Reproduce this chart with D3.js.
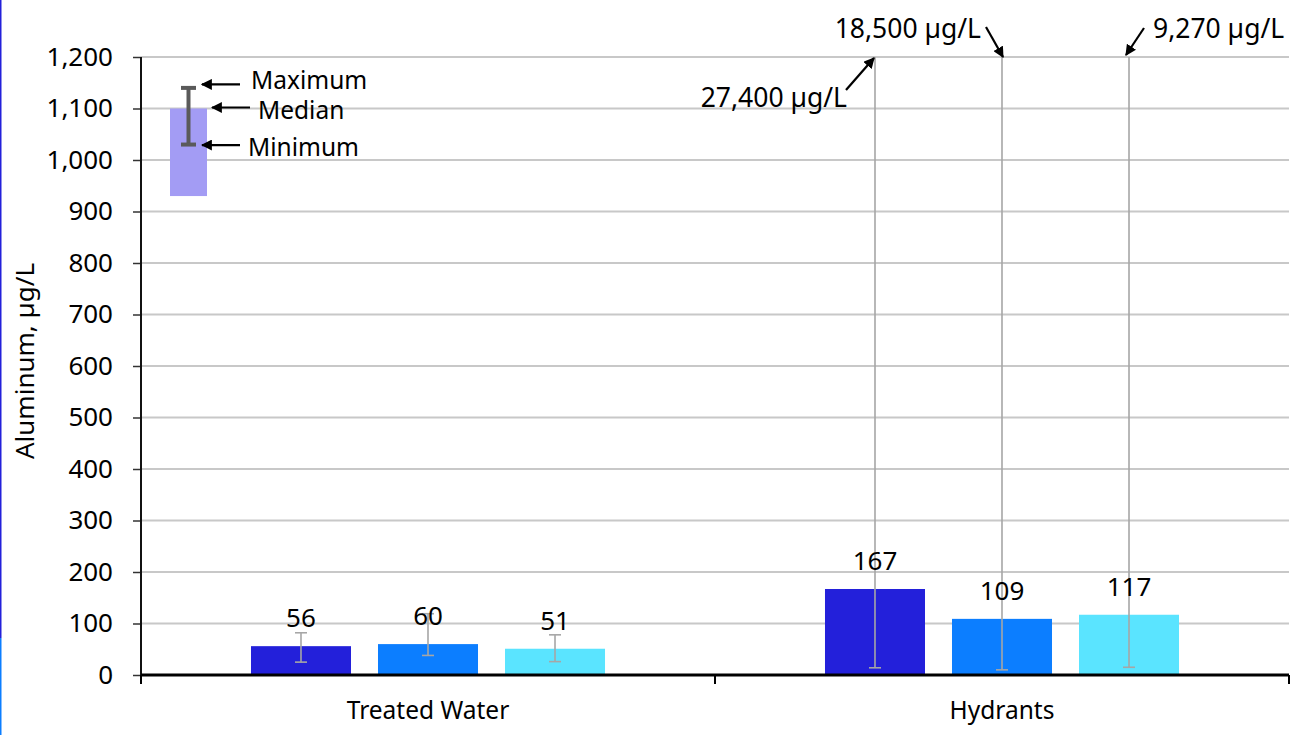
<!DOCTYPE html>
<html>
<head>
<meta charset="utf-8">
<script src="https://cdn.jsdelivr.net/npm/d3@7"></script>
<style>
  html, body { margin: 0; padding: 0; background: #fff; }
  svg { display: block; font-family: "Noto Sans", "Open Sans", sans-serif; }
</style>
</head>
<body>
<svg id="chart" width="1293" height="735"></svg>
<script>
// Sample locations and the three sampling series per location
const categories = ["Treated Water", "Hydrants"];
const seriesKeys = ["series1", "series2", "series3"];
const seriesColors = ["#2320DA", "#0C7EFF", "#5AE4FF"];

// Median aluminum concentration (µg/L) per location, per series
const medians = [
  [56, 60, 51],
  [167, 109, 117]
];
// Minimum and maximum concentrations (µg/L)
const minima = [
  [25, 38, 26],
  [14, 10, 15]
];
const maxima = [
  [82, 119, 78],
  [27400, 18500, 9270]
];

// Y axis ticks
const yTicks = [0, 100, 200, 300, 400, 500, 600, 700, 800, 900, 1000, 1100, 1200];

// Key explaining the bar / whisker encoding
const keyValues = { base: 930, median: 1100, min: 1030, max: 1140 };
const keyLabels = ["Maximum", "Median", "Minimum"];

const W = 1293, H = 735;
const margin = { top: 57, right: 4, bottom: 60, left: 141 };
const svg = d3.select("#chart");

const x0 = d3.scaleBand()
  .domain(categories)
  .range([margin.left, W - margin.right])
  .padding(0);

const x1 = d3.scaleBand()
  .domain(seriesKeys)
  .range([0, x0.bandwidth()])
  .paddingInner(0.2126)
  .paddingOuter(0.866);

const y = d3.scaleLinear()
  .domain([0, 1200])
  .range([H - margin.bottom, margin.top]);

const color = d3.scaleOrdinal(seriesKeys, seriesColors);
const NUM_FONT = 26;    // numbers and axis title
const WORD_FONT = 24.5; // category names and key labels
const NOTE_FONT = 26.5; // call-outs

// Left edge rule
svg.append("rect").attr("x", 0).attr("y", 0).attr("width", 1.5).attr("height", 638).attr("fill", "#2320DA");
svg.append("rect").attr("x", 0).attr("y", 638).attr("width", 1.5).attr("height", H - 638).attr("fill", "#0C7EFF");

// Gridlines
svg.append("g")
  .selectAll("line")
  .data(yTicks.filter(d => d > 0))
  .join("line")
  .attr("x1", margin.left)
  .attr("x2", W - margin.right)
  .attr("y1", d => y(d))
  .attr("y2", d => y(d))
  .attr("stroke", "#C8C8C8")
  .attr("stroke-width", 2);

// Clip for whiskers that run past the top of the scale
svg.append("clipPath").attr("id", "plot-clip")
  .append("rect")
  .attr("x", margin.left).attr("y", margin.top)
  .attr("width", W - margin.left - margin.right)
  .attr("height", H - margin.top - margin.bottom);

// Flatten data for drawing
const rows = [];
categories.forEach((c, ci) => {
  seriesKeys.forEach((s, si) => {
    rows.push({ cat: c, key: s, median: medians[ci][si], min: minima[ci][si], max: maxima[ci][si] });
  });
});

svg.append("g").attr("class", "bars")
  .selectAll("rect")
  .data(rows)
  .join("rect")
  .attr("x", d => x0(d.cat) + x1(d.key))
  .attr("y", d => y(d.median))
  .attr("width", x1.bandwidth())
  .attr("height", d => y(0) - y(d.median))
  .attr("fill", d => color(d.key));

// Min–max whiskers
const whisk = svg.append("g").attr("clip-path", "url(#plot-clip)")
  .attr("stroke", "#A6A6A6").attr("stroke-width", 1.6).attr("fill", "none");
const capHalf = 6;
rows.forEach(d => {
  const cx = x0(d.cat) + x1(d.key) + x1.bandwidth() / 2;
  whisk.append("line").attr("x1", cx).attr("x2", cx).attr("y1", y(d.min)).attr("y2", y(d.max));
  whisk.append("line").attr("x1", cx - capHalf).attr("x2", cx + capHalf).attr("y1", y(d.min)).attr("y2", y(d.min));
  whisk.append("line").attr("x1", cx - capHalf).attr("x2", cx + capHalf).attr("y1", y(d.max)).attr("y2", y(d.max));
});

// Median value labels
svg.append("g")
  .selectAll("text")
  .data(rows)
  .join("text")
  .attr("x", d => x0(d.cat) + x1(d.key) + x1.bandwidth() / 2)
  .attr("y", d => y(d.median) - 19)
  .attr("text-anchor", "middle")
  .attr("font-size", NUM_FONT)
  .attr("fill", "#000")
  .text(d => d3.format(",")(d.median));

// Y axis
const yAxis = svg.append("g")
  .attr("transform", `translate(${margin.left},0)`)
  .call(d3.axisLeft(y).tickValues(yTicks).tickSize(8).tickPadding(20).tickFormat(d3.format(",")))
  .attr("font-family", null);
yAxis.select(".domain").remove();
yAxis.selectAll(".tick line").attr("stroke", "#333").attr("stroke-width", 1.5);
yAxis.selectAll(".tick text").attr("font-size", NUM_FONT).attr("fill", "#000");
svg.append("line")
  .attr("x1", margin.left).attr("x2", margin.left)
  .attr("y1", margin.top).attr("y2", y(0) + 9)
  .attr("stroke", "#111").attr("stroke-width", 2);

// X axis: category labels at band centres, ticks at band edges
const xAxis = svg.append("g")
  .attr("transform", `translate(0,${y(0)})`)
  .call(d3.axisBottom(x0).tickSize(0).tickPadding(27))
  .attr("font-family", null);
xAxis.select(".domain").remove();
xAxis.selectAll(".tick text").attr("font-size", WORD_FONT).attr("fill", "#000");

const edges = categories.map(c => x0(c)).concat([x0.range()[1]]);
svg.append("g").selectAll("line")
  .data(edges)
  .join("line")
  .attr("x1", d => d).attr("x2", d => d)
  .attr("y1", y(0)).attr("y2", y(0) + 9)
  .attr("stroke", "#000").attr("stroke-width", 2);
svg.append("line")
  .attr("x1", margin.left).attr("x2", W - margin.right)
  .attr("y1", y(0)).attr("y2", y(0))
  .attr("stroke", "#000").attr("stroke-width", 3);

// Y axis title
svg.append("text")
  .attr("transform", `translate(34,${(margin.top + y(0)) / 2 - 5}) rotate(-90)`)
  .attr("text-anchor", "middle")
  .attr("font-size", NUM_FONT)
  .attr("fill", "#000")
  .text("Aluminum, µg/L");

// Arrow marker
svg.append("defs").append("marker")
  .attr("id", "arrow")
  .attr("viewBox", "0 0 10 10")
  .attr("refX", 9).attr("refY", 5)
  .attr("markerWidth", 5).attr("markerHeight", 5)
  .attr("markerUnits", "strokeWidth")
  .attr("orient", "auto")
  .append("path")
  .attr("d", "M0,0 L10,5 L0,10 Z")
  .attr("fill", "#000");

function arrow(ax1, ay1, ax2, ay2) {
  svg.append("line")
    .attr("x1", ax1).attr("y1", ay1).attr("x2", ax2).attr("y2", ay2)
    .attr("stroke", "#000").attr("stroke-width", 2.2)
    .attr("marker-end", "url(#arrow)");
}

// Key: bar + whisker with labelled arrows
const keyX = margin.left + 29, keyW = 37;
const keyCx = keyX + keyW / 2;
svg.append("rect")
  .attr("x", keyX).attr("y", y(keyValues.median))
  .attr("width", keyW).attr("height", y(keyValues.base) - y(keyValues.median))
  .attr("fill", "#A39CF4");
const keyG = svg.append("g").attr("stroke", "#5A5A5A").attr("stroke-width", 4);
keyG.append("line").attr("x1", keyCx).attr("x2", keyCx).attr("y1", y(keyValues.min)).attr("y2", y(keyValues.max));
keyG.append("line").attr("x1", keyCx - 7.5).attr("x2", keyCx + 7.5).attr("y1", y(keyValues.min)).attr("y2", y(keyValues.min));
keyG.append("line").attr("x1", keyCx - 7.5).attr("x2", keyCx + 7.5).attr("y1", y(keyValues.max)).attr("y2", y(keyValues.max));

const keyRows = [
  { label: keyLabels[0], v: keyValues.max, dy: -3.5, base: 5, ax0: 240, ax1: 202, tx: 251 },
  { label: keyLabels[1], v: keyValues.median, dy: -1, base: 11, ax0: 250, ax1: 212, tx: 258 },
  { label: keyLabels[2], v: keyValues.min, dy: 0.5, base: 11, ax0: 240, ax1: 202, tx: 248 }
];
keyRows.forEach(r => {
  const ay = y(r.v) + r.dy;
  arrow(r.ax0, ay, r.ax1, ay);
  svg.append("text")
    .attr("x", r.tx).attr("y", ay + r.base)
    .attr("font-size", WORD_FONT).attr("fill", "#000")
    .text(r.label);
});

// Call-outs for maxima beyond the axis range
const fmt = d3.format(",");
const yTop = y(1200);
const hyd = categories[1];
const cxOf = i => x0(hyd) + x1(seriesKeys[i]) + x1.bandwidth() / 2;

svg.append("text").attr("x", 847).attr("y", 107).attr("text-anchor", "end")
  .attr("font-size", NOTE_FONT).attr("fill", "#000").text(`${fmt(maxima[1][0])} µg/L`);
arrow(846, 90, cxOf(0) - 1, yTop + 1);

svg.append("text").attr("x", 981).attr("y", 38).attr("text-anchor", "end")
  .attr("font-size", NOTE_FONT).attr("fill", "#000").text(`${fmt(maxima[1][1])} µg/L`);
arrow(986, 27, cxOf(1) + 1, yTop);

svg.append("text").attr("x", 1153).attr("y", 38).attr("text-anchor", "start")
  .attr("font-size", NOTE_FONT).attr("fill", "#000").text(`${fmt(maxima[1][2])} µg/L`);
arrow(1144, 28, cxOf(2) - 3, yTop - 2);
</script>
</body>
</html>
